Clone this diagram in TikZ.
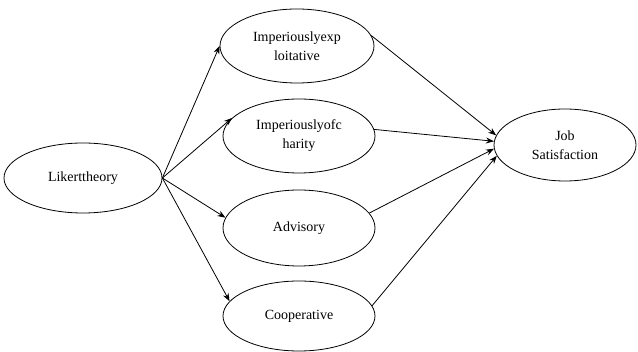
\documentclass[tikz,border=0pt]{standalone}
\usepackage{fontspec}
\setmainfont{Liberation Serif}
\usetikzlibrary{shapes.geometric,arrows.meta}
\begin{document}
\begin{tikzpicture}[x=1pt,y=-1pt,
  ell/.style={draw, ellipse, line width=0.8pt, inner sep=0pt, align=center, font=\fontsize{14}{19}\selectfont},
  conn/.style={line width=0.8pt, -{Stealth[length=8pt,width=6pt]}}]
\useasboundingbox (0,0) rectangle (638,352);
\node[ell, minimum width=158, minimum height=70] (lik) at (83,178) {Likerttheory};
\node[ell, minimum width=154, minimum height=74] (e1) at (297,46) {Imperiouslyexp\\loitative};
\node[ell, minimum width=152, minimum height=74] (e2) at (299,136) {Imperiouslyofc\\harity};
\node[ell, minimum width=152, minimum height=76] (e3) at (299,228) {Advisory};
\node[ell, minimum width=152, minimum height=70] (e4) at (299,316) {Cooperative};
\node[ell, minimum width=142, minimum height=72] (js) at (565,145) {Job\\Satisfaction};
\draw[conn] (lik.east) -- (e1.west);
\draw[conn] (lik.east) -- (e2.165);
\draw[conn] (lik.east) -- (e3.172);
\draw[conn] (lik.east) -- (e4.168);
\draw[conn] (e1.8) -- (js.172);
\draw[conn] (e2.5) -- (js.177);
\draw[conn] (e3.12) -- (js.183);
\draw[conn] (e4.8) -- (js.189);
\end{tikzpicture}
\end{document}
